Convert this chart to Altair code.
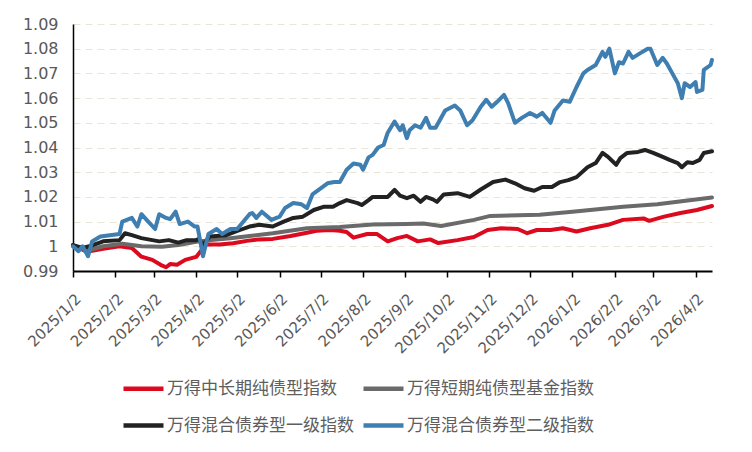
import altair as alt
import pandas as pd

series_names = ["万得中长期纯债型指数", "万得短期纯债型基金指数", "万得混合债券型一级指数", "万得混合债券型二级指数"]
series_colors = ["#DC0A1E", "#6A6A6A", "#222222", "#3E7EB0"]

red_dates = ["2025-01-02", "2025-01-12", "2025-01-24", "2025-02-05", "2025-02-14", "2025-02-21", "2025-03-01",
             "2025-03-07", "2025-03-11", "2025-03-14", "2025-03-19", "2025-03-25", "2025-04-02", "2025-04-06",
             "2025-04-08", "2025-04-19", "2025-04-29", "2025-05-09", "2025-05-18", "2025-05-28", "2025-06-10",
             "2025-06-22", "2025-06-29", "2025-07-09", "2025-07-16", "2025-07-21", "2025-07-26", "2025-08-05",
             "2025-08-12", "2025-08-20", "2025-08-27", "2025-09-03", "2025-09-11", "2025-09-20", "2025-09-26",
             "2025-10-10", "2025-10-22", "2025-11-01", "2025-11-11", "2025-11-23", "2025-11-30", "2025-12-07",
             "2025-12-17", "2025-12-26", "2026-01-05", "2026-01-15", "2026-01-28", "2026-02-08", "2026-02-23",
             "2026-02-27", "2026-03-10", "2026-03-22", "2026-04-03", "2026-04-14"]
red_vals = [1.0005, 0.9978, 0.999, 1.000, 0.9993, 0.9958, 0.9945,
            0.9925, 0.9915, 0.9928, 0.9925, 0.9945, 0.9957, 0.9985,
            1.0007, 1.0007, 1.0012, 1.0022, 1.0028, 1.003, 1.0042,
            1.0055, 1.0063, 1.0066, 1.0063, 1.0058, 1.0035, 1.005,
            1.005, 1.002, 1.0033, 1.0042, 1.002, 1.0028, 1.0013,
            1.0025, 1.0038, 1.0066, 1.0073, 1.007, 1.0053, 1.0066,
            1.0066, 1.0073, 1.006, 1.0073, 1.0087, 1.0107, 1.0113,
            1.0103, 1.012, 1.0135, 1.0147, 1.0163]

gray_dates = ["2025-01-02", "2025-01-14", "2025-01-24", "2025-02-07", "2025-02-21", "2025-03-08", "2025-03-20",
              "2025-04-02", "2025-04-13", "2025-04-27", "2025-05-11", "2025-05-28", "2025-06-22", "2025-07-16",
              "2025-08-09", "2025-09-03", "2025-09-15", "2025-09-28", "2025-10-22", "2025-11-03", "2025-12-09",
              "2026-01-02", "2026-01-15", "2026-02-08", "2026-03-05", "2026-04-14"]
gray_vals = [1.000, 0.9985, 1.000, 1.001, 1.000, 0.9998, 1.0005,
             1.0018, 1.0025, 1.0033, 1.0042, 1.0053, 1.0073, 1.0078,
             1.0088, 1.009, 1.0092, 1.0082, 1.0107, 1.0123, 1.0128,
             1.014, 1.0147, 1.016, 1.017, 1.0198]

black_dates = ["2025-01-02", "2025-01-09", "2025-01-14", "2025-01-24", "2025-02-05", "2025-02-09", "2025-02-14",
               "2025-02-21", "2025-03-01", "2025-03-06", "2025-03-13", "2025-03-20", "2025-03-26", "2025-04-02",
               "2025-04-04", "2025-04-07", "2025-04-12", "2025-04-24", "2025-05-04", "2025-05-11", "2025-05-18",
               "2025-05-28", "2025-06-05", "2025-06-12", "2025-06-19", "2025-06-27", "2025-07-04", "2025-07-11",
               "2025-07-16", "2025-07-21", "2025-07-29", "2025-08-01", "2025-08-06", "2025-08-09", "2025-08-20",
               "2025-08-25", "2025-08-29", "2025-09-03", "2025-09-08", "2025-09-13", "2025-09-17", "2025-09-22",
               "2025-09-25", "2025-09-30", "2025-10-10", "2025-10-19", "2025-10-27", "2025-11-05", "2025-11-14",
               "2025-11-21", "2025-11-28", "2025-12-05", "2025-12-11", "2025-12-18", "2025-12-24", "2025-12-30",
               "2026-01-05", "2026-01-13", "2026-01-19", "2026-01-24", "2026-01-28", "2026-02-03", "2026-02-06",
               "2026-02-11", "2026-02-19", "2026-02-24", "2026-03-02", "2026-03-09", "2026-03-14", "2026-03-20",
               "2026-03-23", "2026-03-27", "2026-03-31", "2026-04-05", "2026-04-08", "2026-04-14"]
black_vals = [1.0005, 0.9993, 1.000, 1.002, 1.0025, 1.0053, 1.0045,
              1.0033, 1.0025, 1.002, 1.0025, 1.0015, 1.0025, 1.0025,
              1.003, 1.0005, 1.004, 1.0045, 1.0066, 1.008, 1.0087,
              1.008, 1.010, 1.0115, 1.012, 1.0147, 1.016, 1.016,
              1.0175, 1.0187, 1.0175, 1.0167, 1.0187, 1.020, 1.020,
              1.0228, 1.0205, 1.0195, 1.0205, 1.018, 1.020, 1.019,
              1.018, 1.021, 1.0215, 1.020, 1.023, 1.026, 1.027,
              1.0255, 1.0235, 1.0225, 1.024, 1.024, 1.026, 1.0268,
              1.028, 1.032, 1.0337, 1.0378, 1.0362, 1.033, 1.0357,
              1.0378, 1.0382, 1.039, 1.0378, 1.0362, 1.035, 1.0337,
              1.032, 1.034, 1.0337, 1.035, 1.0378, 1.0385]

blue_dates = ["2025-01-02", "2025-01-06", "2025-01-09", "2025-01-13", "2025-01-16", "2025-01-22", "2025-02-05",
              "2025-02-07", "2025-02-14", "2025-02-18", "2025-02-21", "2025-02-26", "2025-03-03", "2025-03-06",
              "2025-03-11", "2025-03-14", "2025-03-18", "2025-03-21", "2025-03-27", "2025-04-01", "2025-04-03",
              "2025-04-07", "2025-04-11", "2025-04-17", "2025-04-21", "2025-04-27", "2025-05-02", "2025-05-11",
              "2025-05-13", "2025-05-16", "2025-05-20", "2025-05-27", "2025-06-02", "2025-06-06", "2025-06-12",
              "2025-06-18", "2025-06-22", "2025-06-26", "2025-07-01", "2025-07-07", "2025-07-12", "2025-07-16",
              "2025-07-21", "2025-07-26", "2025-07-31", "2025-08-02", "2025-08-06", "2025-08-09", "2025-08-13",
              "2025-08-17", "2025-08-20", "2025-08-25", "2025-08-29", "2025-08-31", "2025-09-03", "2025-09-05",
              "2025-09-09", "2025-09-13", "2025-09-17", "2025-09-20", "2025-09-24", "2025-10-01", "2025-10-08",
              "2025-10-12", "2025-10-17", "2025-10-21", "2025-10-27", "2025-10-31", "2025-11-04", "2025-11-08",
              "2025-11-13", "2025-11-16", "2025-11-21", "2025-11-26", "2025-12-02", "2025-12-07", "2025-12-11",
              "2025-12-17", "2025-12-20", "2025-12-26", "2025-12-31", "2026-01-05", "2026-01-10", "2026-01-13",
              "2026-01-19", "2026-01-24", "2026-01-26", "2026-01-29", "2026-02-02", "2026-02-05", "2026-02-08",
              "2026-02-12", "2026-02-15", "2026-02-20", "2026-02-26", "2026-02-28", "2026-03-05", "2026-03-09",
              "2026-03-12", "2026-03-16", "2026-03-20", "2026-03-23", "2026-03-25", "2026-03-29", "2026-04-02",
              "2026-04-03", "2026-04-07", "2026-04-08", "2026-04-13", "2026-04-14"]
blue_vals = [1.000, 0.998, 1.000, 0.996, 1.002, 1.004, 1.005,
             1.010, 1.0115, 1.008, 1.013, 1.010, 1.007, 1.013,
             1.0115, 1.011, 1.014, 1.009, 1.010, 1.008, 1.008,
             0.996, 1.005, 1.007, 1.005, 1.007, 1.007, 1.013,
             1.0135, 1.0115, 1.014, 1.0107, 1.012, 1.0155, 1.0175,
             1.017, 1.0155, 1.021, 1.023, 1.0255, 1.026, 1.026,
             1.031, 1.0335, 1.033, 1.031, 1.036, 1.037, 1.040,
             1.041, 1.046, 1.0505, 1.047, 1.049, 1.0438, 1.047,
             1.049, 1.048, 1.052, 1.048, 1.048, 1.055, 1.057,
             1.055, 1.049, 1.051, 1.0565, 1.0593, 1.0565, 1.0585,
             1.0613, 1.058, 1.050, 1.052, 1.054, 1.0525, 1.054,
             1.050, 1.055, 1.059, 1.0585, 1.0645, 1.070, 1.0714,
             1.0734, 1.0787, 1.0767, 1.080, 1.070, 1.0745, 1.074,
             1.0787, 1.0763, 1.078, 1.080, 1.080, 1.0734, 1.0763,
             1.074, 1.070, 1.066, 1.060, 1.066, 1.0645, 1.0665,
             1.0625, 1.0633, 1.0714, 1.0734, 1.0755]

y_ticks = [0.99, 1.00, 1.01, 1.02, 1.03, 1.04, 1.05, 1.06, 1.07, 1.08, 1.09]
x_tick_months = [(2025, m) for m in range(1, 13)] + [(2026, m) for m in range(1, 5)]

FONT = "DejaVu Sans"
CJK = "Noto Sans CJK SC"
LABEL_COLOR = "#595959"


def frame(name, dates, vals):
    return pd.DataFrame({"date": dates, "value": vals, "series": name})


frames = [frame(series_names[0], red_dates, red_vals),
          frame(series_names[1], gray_dates, gray_vals),
          frame(series_names[2], black_dates, black_vals),
          frame(series_names[3], blue_dates, blue_vals)]

x_enc = alt.X(
    "date:T",
    title=None,
    scale=alt.Scale(type="utc", nice=False,
                    domain=[alt.DateTime(year=2025, month=1, date=2, utc=True),
                            alt.DateTime(year=2026, month=4, date=14, utc=True)]),
    axis=alt.Axis(
        values=[alt.DateTime(year=y, month=m, date=2, utc=True) for y, m in x_tick_months],
        labelExpr="utcFormat(datum.value, '%Y/%-m/%-d')",
        labelAngle=-45, labelFont=FONT, labelFontSize=15, labelColor=LABEL_COLOR,
        labelPadding=14, labelOverlap=False, labelFlush=False,
        domainColor="#000000", domainWidth=2, tickColor="#000000", tickWidth=1.5, tickSize=6,
        grid=False,
    ),
)
y_enc = alt.Y(
    "value:Q",
    title=None,
    scale=alt.Scale(domain=[0.99, 1.09], nice=False, zero=False),
    axis=alt.Axis(
        values=y_ticks,
        labelExpr="abs(datum.value - 1) < 1e-9 ? '1' : format(datum.value, '.2f')",
        labelFont=FONT, labelFontSize=16, labelColor=LABEL_COLOR, labelPadding=15,
        ticks=False, domainColor="#000000", domainWidth=1.5,
        grid=True, gridColor="#E9E5D9", gridDash=[7, 5], gridWidth=1.2,
    ),
)
color_enc = alt.Color(
    "series:N",
    scale=alt.Scale(domain=series_names, range=series_colors),
    legend=alt.Legend(
        title=None, orient="none", legendX=48, legendY=342, columns=2, direction="horizontal",
        padding=0, symbolType="stroke", symbolSize=1600, symbolStrokeWidth=4.5,
        labelFont=CJK, labelFontSize=17, labelColor="#5E5E5E", labelOffset=1,
        columnPadding=0, rowPadding=5, labelLimit=400,
    ),
)

layers = [
    alt.Chart(df).mark_line(strokeWidth=4, strokeJoin="round", strokeCap="round")
    .encode(x=x_enc, y=y_enc, color=color_enc)
    for df in frames
]

chart = alt.layer(*layers).properties(
    width=639, height=247,
    autosize=alt.AutoSizeParams(type="none"),
    padding={"left": 65, "top": 16, "right": 24, "bottom": 170},
    background="#FFFFFF",
).configure_view(stroke=None)

chart.save("out.html", embed_options={"renderer": "svg", "actions": False})
